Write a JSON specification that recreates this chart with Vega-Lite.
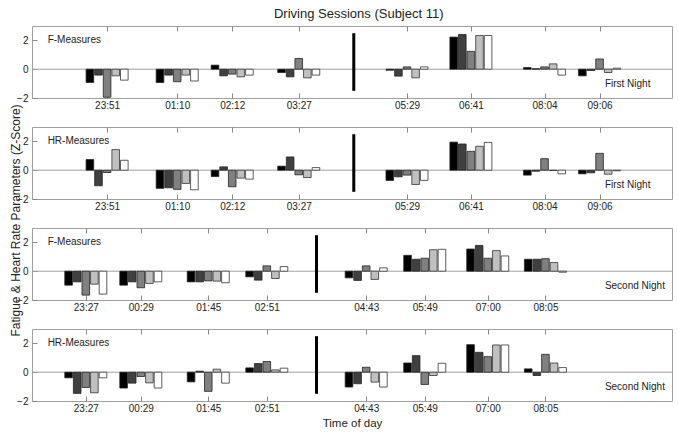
{
"$schema":"https://vega.github.io/schema/vega-lite/v6.json",
"background":"white",
"padding":{"left":8,"top":8,"right":0,"bottom":0},
"title":{"text":"Driving Sessions (Subject 11)","fontSize":13,"fontWeight":"normal","font":"Liberation Sans","color":"#222","offset":4,"anchor":"middle","dx":18},
"datasets":{"d":[
{"p":"F1","t":"2000-01-01T23:51","s":1,"v":-0.92},{"p":"F1","t":"2000-01-01T23:51","s":2,"v":-0.41},{"p":"F1","t":"2000-01-01T23:51","s":3,"v":-1.95},{"p":"F1","t":"2000-01-01T23:51","s":4,"v":-0.46},{"p":"F1","t":"2000-01-01T23:51","s":5,"v":-0.76},
{"p":"F1","t":"2000-01-02T01:10","s":1,"v":-0.92},{"p":"F1","t":"2000-01-02T01:10","s":2,"v":-0.41},{"p":"F1","t":"2000-01-02T01:10","s":3,"v":-0.87},{"p":"F1","t":"2000-01-02T01:10","s":4,"v":-0.41},{"p":"F1","t":"2000-01-02T01:10","s":5,"v":-0.82},
{"p":"F1","t":"2000-01-02T02:12","s":1,"v":0.28},{"p":"F1","t":"2000-01-02T02:12","s":2,"v":-0.46},{"p":"F1","t":"2000-01-02T02:12","s":3,"v":-0.34},{"p":"F1","t":"2000-01-02T02:12","s":4,"v":-0.53},{"p":"F1","t":"2000-01-02T02:12","s":5,"v":-0.41},
{"p":"F1","t":"2000-01-02T03:27","s":1,"v":-0.23},{"p":"F1","t":"2000-01-02T03:27","s":2,"v":-0.53},{"p":"F1","t":"2000-01-02T03:27","s":3,"v":0.74},{"p":"F1","t":"2000-01-02T03:27","s":4,"v":-0.6},{"p":"F1","t":"2000-01-02T03:27","s":5,"v":-0.41},
{"p":"F1","t":"2000-01-02T05:29","s":1,"v":-0.07},{"p":"F1","t":"2000-01-02T05:29","s":2,"v":-0.48},{"p":"F1","t":"2000-01-02T05:29","s":3,"v":0.16},{"p":"F1","t":"2000-01-02T05:29","s":4,"v":-0.6},{"p":"F1","t":"2000-01-02T05:29","s":5,"v":0.16},
{"p":"F1","t":"2000-01-02T06:41","s":1,"v":2.23},{"p":"F1","t":"2000-01-02T06:41","s":2,"v":2.41},{"p":"F1","t":"2000-01-02T06:41","s":3,"v":1.24},{"p":"F1","t":"2000-01-02T06:41","s":4,"v":2.34},{"p":"F1","t":"2000-01-02T06:41","s":5,"v":2.34},
{"p":"F1","t":"2000-01-02T08:04","s":1,"v":0.11},{"p":"F1","t":"2000-01-02T08:04","s":2,"v":0.03},{"p":"F1","t":"2000-01-02T08:04","s":3,"v":0.16},{"p":"F1","t":"2000-01-02T08:04","s":4,"v":0.37},{"p":"F1","t":"2000-01-02T08:04","s":5,"v":-0.41},
{"p":"F1","t":"2000-01-02T09:06","s":1,"v":-0.46},{"p":"F1","t":"2000-01-02T09:06","s":2,"v":-0.09},{"p":"F1","t":"2000-01-02T09:06","s":3,"v":0.71},{"p":"F1","t":"2000-01-02T09:06","s":4,"v":-0.23},{"p":"F1","t":"2000-01-02T09:06","s":5,"v":0.07},
{"p":"H1","t":"2000-01-01T23:51","s":1,"v":0.74},{"p":"H1","t":"2000-01-01T23:51","s":2,"v":-1.08},{"p":"H1","t":"2000-01-01T23:51","s":3,"v":-0.16},{"p":"H1","t":"2000-01-01T23:51","s":4,"v":1.43},{"p":"H1","t":"2000-01-01T23:51","s":5,"v":0.69},
{"p":"H1","t":"2000-01-02T01:10","s":1,"v":-1.26},{"p":"H1","t":"2000-01-02T01:10","s":2,"v":-1.22},{"p":"H1","t":"2000-01-02T01:10","s":3,"v":-1.33},{"p":"H1","t":"2000-01-02T01:10","s":4,"v":-0.92},{"p":"H1","t":"2000-01-02T01:10","s":5,"v":-1.36},
{"p":"H1","t":"2000-01-02T02:12","s":1,"v":-0.44},{"p":"H1","t":"2000-01-02T02:12","s":2,"v":0.23},{"p":"H1","t":"2000-01-02T02:12","s":3,"v":-1.15},{"p":"H1","t":"2000-01-02T02:12","s":4,"v":-0.55},{"p":"H1","t":"2000-01-02T02:12","s":5,"v":-0.62},
{"p":"H1","t":"2000-01-02T03:27","s":1,"v":0.28},{"p":"H1","t":"2000-01-02T03:27","s":2,"v":0.92},{"p":"H1","t":"2000-01-02T03:27","s":3,"v":-0.32},{"p":"H1","t":"2000-01-02T03:27","s":4,"v":-0.51},{"p":"H1","t":"2000-01-02T03:27","s":5,"v":0.18},
{"p":"H1","t":"2000-01-02T05:29","s":1,"v":-0.71},{"p":"H1","t":"2000-01-02T05:29","s":2,"v":-0.46},{"p":"H1","t":"2000-01-02T05:29","s":3,"v":-0.34},{"p":"H1","t":"2000-01-02T05:29","s":4,"v":-0.99},{"p":"H1","t":"2000-01-02T05:29","s":5,"v":-0.71},
{"p":"H1","t":"2000-01-02T06:41","s":1,"v":1.95},{"p":"H1","t":"2000-01-02T06:41","s":2,"v":1.82},{"p":"H1","t":"2000-01-02T06:41","s":3,"v":1.31},{"p":"H1","t":"2000-01-02T06:41","s":4,"v":1.66},{"p":"H1","t":"2000-01-02T06:41","s":5,"v":1.93},
{"p":"H1","t":"2000-01-02T08:04","s":1,"v":-0.34},{"p":"H1","t":"2000-01-02T08:04","s":2,"v":-0.07},{"p":"H1","t":"2000-01-02T08:04","s":3,"v":0.8},{"p":"H1","t":"2000-01-02T08:04","s":4,"v":-0.02},{"p":"H1","t":"2000-01-02T08:04","s":5,"v":-0.25},
{"p":"H1","t":"2000-01-02T09:06","s":1,"v":-0.25},{"p":"H1","t":"2000-01-02T09:06","s":2,"v":-0.18},{"p":"H1","t":"2000-01-02T09:06","s":3,"v":1.17},{"p":"H1","t":"2000-01-02T09:06","s":4,"v":-0.28},{"p":"H1","t":"2000-01-02T09:06","s":5,"v":-0.04},
{"p":"F2","t":"2000-01-01T23:27","s":1,"v":-0.97},{"p":"F2","t":"2000-01-01T23:27","s":2,"v":-0.74},{"p":"F2","t":"2000-01-01T23:27","s":3,"v":-1.66},{"p":"F2","t":"2000-01-01T23:27","s":4,"v":-0.9},{"p":"F2","t":"2000-01-01T23:27","s":5,"v":-1.59},
{"p":"F2","t":"2000-01-02T00:29","s":1,"v":-0.97},{"p":"F2","t":"2000-01-02T00:29","s":2,"v":-0.74},{"p":"F2","t":"2000-01-02T00:29","s":3,"v":-1.15},{"p":"F2","t":"2000-01-02T00:29","s":4,"v":-0.85},{"p":"F2","t":"2000-01-02T00:29","s":5,"v":-0.74},
{"p":"F2","t":"2000-01-02T01:45","s":1,"v":-0.74},{"p":"F2","t":"2000-01-02T01:45","s":2,"v":-0.74},{"p":"F2","t":"2000-01-02T01:45","s":3,"v":-0.67},{"p":"F2","t":"2000-01-02T01:45","s":4,"v":-0.69},{"p":"F2","t":"2000-01-02T01:45","s":5,"v":-0.8},
{"p":"F2","t":"2000-01-02T02:51","s":1,"v":-0.39},{"p":"F2","t":"2000-01-02T02:51","s":2,"v":-0.62},{"p":"F2","t":"2000-01-02T02:51","s":3,"v":0.37},{"p":"F2","t":"2000-01-02T02:51","s":4,"v":-0.51},{"p":"F2","t":"2000-01-02T02:51","s":5,"v":0.32},
{"p":"F2","t":"2000-01-02T04:43","s":1,"v":-0.46},{"p":"F2","t":"2000-01-02T04:43","s":2,"v":-0.64},{"p":"F2","t":"2000-01-02T04:43","s":3,"v":0.37},{"p":"F2","t":"2000-01-02T04:43","s":4,"v":-0.57},{"p":"F2","t":"2000-01-02T04:43","s":5,"v":0.23},
{"p":"F2","t":"2000-01-02T05:49","s":1,"v":1.1},{"p":"F2","t":"2000-01-02T05:49","s":2,"v":0.83},{"p":"F2","t":"2000-01-02T05:49","s":3,"v":0.9},{"p":"F2","t":"2000-01-02T05:49","s":4,"v":1.49},{"p":"F2","t":"2000-01-02T05:49","s":5,"v":1.52},
{"p":"F2","t":"2000-01-02T07:00","s":1,"v":1.54},{"p":"F2","t":"2000-01-02T07:00","s":2,"v":1.79},{"p":"F2","t":"2000-01-02T07:00","s":3,"v":0.9},{"p":"F2","t":"2000-01-02T07:00","s":4,"v":1.43},{"p":"F2","t":"2000-01-02T07:00","s":5,"v":1.06},
{"p":"F2","t":"2000-01-02T08:05","s":1,"v":0.83},{"p":"F2","t":"2000-01-02T08:05","s":2,"v":0.83},{"p":"F2","t":"2000-01-02T08:05","s":3,"v":0.87},{"p":"F2","t":"2000-01-02T08:05","s":4,"v":0.6},{"p":"F2","t":"2000-01-02T08:05","s":5,"v":-0.07},
{"p":"H2","t":"2000-01-01T23:27","s":1,"v":-0.39},{"p":"H2","t":"2000-01-01T23:27","s":2,"v":-1.47},{"p":"H2","t":"2000-01-01T23:27","s":3,"v":-1.06},{"p":"H2","t":"2000-01-01T23:27","s":4,"v":-1.43},{"p":"H2","t":"2000-01-01T23:27","s":5,"v":-0.39},
{"p":"H2","t":"2000-01-02T00:29","s":1,"v":-1.1},{"p":"H2","t":"2000-01-02T00:29","s":2,"v":-0.76},{"p":"H2","t":"2000-01-02T00:29","s":3,"v":-0.3},{"p":"H2","t":"2000-01-02T00:29","s":4,"v":-0.74},{"p":"H2","t":"2000-01-02T00:29","s":5,"v":-1.1},
{"p":"H2","t":"2000-01-02T01:45","s":1,"v":-0.67},{"p":"H2","t":"2000-01-02T01:45","s":2,"v":0.07},{"p":"H2","t":"2000-01-02T01:45","s":3,"v":-1.33},{"p":"H2","t":"2000-01-02T01:45","s":4,"v":0.21},{"p":"H2","t":"2000-01-02T01:45","s":5,"v":-0.76},
{"p":"H2","t":"2000-01-02T02:51","s":1,"v":0.3},{"p":"H2","t":"2000-01-02T02:51","s":2,"v":0.6},{"p":"H2","t":"2000-01-02T02:51","s":3,"v":0.74},{"p":"H2","t":"2000-01-02T02:51","s":4,"v":0.16},{"p":"H2","t":"2000-01-02T02:51","s":5,"v":0.28},
{"p":"H2","t":"2000-01-02T04:43","s":1,"v":-1.03},{"p":"H2","t":"2000-01-02T04:43","s":2,"v":-0.8},{"p":"H2","t":"2000-01-02T04:43","s":3,"v":0.34},{"p":"H2","t":"2000-01-02T04:43","s":4,"v":-0.69},{"p":"H2","t":"2000-01-02T04:43","s":5,"v":-1.03},
{"p":"H2","t":"2000-01-02T05:49","s":1,"v":0.64},{"p":"H2","t":"2000-01-02T05:49","s":2,"v":1.15},{"p":"H2","t":"2000-01-02T05:49","s":3,"v":-0.85},{"p":"H2","t":"2000-01-02T05:49","s":4,"v":-0.23},{"p":"H2","t":"2000-01-02T05:49","s":5,"v":0.62},
{"p":"H2","t":"2000-01-02T07:00","s":1,"v":1.91},{"p":"H2","t":"2000-01-02T07:00","s":2,"v":1.38},{"p":"H2","t":"2000-01-02T07:00","s":3,"v":1.08},{"p":"H2","t":"2000-01-02T07:00","s":4,"v":1.89},{"p":"H2","t":"2000-01-02T07:00","s":5,"v":1.89},
{"p":"H2","t":"2000-01-02T08:05","s":1,"v":0.23},{"p":"H2","t":"2000-01-02T08:05","s":2,"v":-0.23},{"p":"H2","t":"2000-01-02T08:05","s":3,"v":1.24},{"p":"H2","t":"2000-01-02T08:05","s":4,"v":0.64},{"p":"H2","t":"2000-01-02T08:05","s":5,"v":0.32}
]},
"spacing":29,
"bounds":"flush",
"vconcat":[
{"width":640,"height":72,"data":{"name":"d"},"resolve":{"axis":{"x":"independent","y":"independent"}},"layer":[
 {"data":{"values":[{}]},"mark":{"type":"rule","color":"#a0a0a0","strokeWidth":1},"encoding":{"y":{"datum":0,"type":"quantitative","axis":null}}},
 {"transform":[{"filter":"datum.p=='F1' && datum.s==1"}],"mark":{"type":"bar","width":7.6,"xOffset":-17.2,"fill":"#000000","stroke":"#222","strokeWidth":0.8},"encoding":{"x":{"field":"t","type":"temporal","scale":{"domain":[{"year":2000,"month":1,"date":1,"hours":22,"minutes":32},{"year":2000,"month":1,"date":2,"hours":10,"minutes":22}],"nice":false},"axis":{"orient":"bottom","values":[{"year":2000,"month":1,"date":1,"hours":23,"minutes":51},{"year":2000,"month":1,"date":2,"hours":1,"minutes":10},{"year":2000,"month":1,"date":2,"hours":2,"minutes":12},{"year":2000,"month":1,"date":2,"hours":3,"minutes":27},{"year":2000,"month":1,"date":2,"hours":5,"minutes":29},{"year":2000,"month":1,"date":2,"hours":6,"minutes":41},{"year":2000,"month":1,"date":2,"hours":8,"minutes":4},{"year":2000,"month":1,"date":2,"hours":9,"minutes":6}],"format":"%H:%M","tickSize":-5,"labelPadding":7,"labelFlush":false,"labelOverlap":false,"title":null}},"y":{"field":"v","type":"quantitative","scale":{"domain":[-2,3],"nice":false},"axis":{"values":[-2,0,2],"tickSize":-5,"labelPadding":9,"minExtent":12,"maxExtent":12,"title":null}}}},
 {"transform":[{"filter":"datum.p=='F1' && datum.s==2"}],"mark":{"type":"bar","width":7.6,"xOffset":-8.6,"fill":"#404040","stroke":"#222","strokeWidth":0.8},"encoding":{"x":{"field":"t","type":"temporal","axis":null},"y":{"field":"v","type":"quantitative","axis":null}}},
 {"transform":[{"filter":"datum.p=='F1' && datum.s==3"}],"mark":{"type":"bar","width":7.6,"xOffset":0,"fill":"#808080","stroke":"#222","strokeWidth":0.8},"encoding":{"x":{"field":"t","type":"temporal","axis":null},"y":{"field":"v","type":"quantitative","axis":null}}},
 {"transform":[{"filter":"datum.p=='F1' && datum.s==4"}],"mark":{"type":"bar","width":7.6,"xOffset":8.6,"fill":"#c0c0c0","stroke":"#333","strokeWidth":0.8},"encoding":{"x":{"field":"t","type":"temporal","axis":null},"y":{"field":"v","type":"quantitative","axis":null}}},
 {"transform":[{"filter":"datum.p=='F1' && datum.s==5"}],"mark":{"type":"bar","width":7.6,"xOffset":17.2,"fill":"#ffffff","stroke":"#333","strokeWidth":0.8},"encoding":{"x":{"field":"t","type":"temporal","axis":null},"y":{"field":"v","type":"quantitative","axis":null}}},
 {"data":{"values":[{}]},"mark":{"type":"rule","color":"#000","strokeWidth":3},"encoding":{"x":{"datum":{"year":2000,"month":1,"date":2,"hours":4,"minutes":29},"type":"temporal","axis":{"orient":"top","values":[{"year":2000,"month":1,"date":1,"hours":23,"minutes":51},{"year":2000,"month":1,"date":2,"hours":1,"minutes":10},{"year":2000,"month":1,"date":2,"hours":2,"minutes":12},{"year":2000,"month":1,"date":2,"hours":3,"minutes":27},{"year":2000,"month":1,"date":2,"hours":5,"minutes":29},{"year":2000,"month":1,"date":2,"hours":6,"minutes":41},{"year":2000,"month":1,"date":2,"hours":8,"minutes":4},{"year":2000,"month":1,"date":2,"hours":9,"minutes":6}],"labels":false,"tickSize":-5,"title":null}},"y":{"datum":2.5,"type":"quantitative","axis":null},"y2":{"datum":-1.5}}},
 {"data":{"values":[{"label":"F-Measures"}]},"mark":{"type":"text","align":"left","baseline":"middle","fontSize":10,"color":"#222"},"encoding":{"x":{"datum":{"year":2000,"month":1,"date":1,"hours":22,"minutes":44},"type":"temporal","axis":null},"y":{"datum":2,"type":"quantitative","axis":null},"text":{"field":"label"}}},
 {"data":{"values":[{"label":"First Night"}]},"mark":{"type":"text","align":"left","baseline":"middle","fontSize":10,"color":"#222"},"encoding":{"x":{"datum":{"year":2000,"month":1,"date":2,"hours":9,"minutes":12},"type":"temporal","axis":null},"y":{"datum":-1.05,"type":"quantitative","axis":null},"text":{"field":"label"}}}
]},
{"width":640,"height":72,"data":{"name":"d"},"resolve":{"axis":{"x":"independent","y":"independent"}},"layer":[
 {"data":{"values":[{}]},"mark":{"type":"rule","color":"#a0a0a0","strokeWidth":1},"encoding":{"y":{"datum":0,"type":"quantitative","axis":null}}},
 {"transform":[{"filter":"datum.p=='H1' && datum.s==1"}],"mark":{"type":"bar","width":7.6,"xOffset":-17.2,"fill":"#000000","stroke":"#222","strokeWidth":0.8},"encoding":{"x":{"field":"t","type":"temporal","scale":{"domain":[{"year":2000,"month":1,"date":1,"hours":22,"minutes":32},{"year":2000,"month":1,"date":2,"hours":10,"minutes":22}],"nice":false},"axis":{"orient":"bottom","values":[{"year":2000,"month":1,"date":1,"hours":23,"minutes":51},{"year":2000,"month":1,"date":2,"hours":1,"minutes":10},{"year":2000,"month":1,"date":2,"hours":2,"minutes":12},{"year":2000,"month":1,"date":2,"hours":3,"minutes":27},{"year":2000,"month":1,"date":2,"hours":5,"minutes":29},{"year":2000,"month":1,"date":2,"hours":6,"minutes":41},{"year":2000,"month":1,"date":2,"hours":8,"minutes":4},{"year":2000,"month":1,"date":2,"hours":9,"minutes":6}],"format":"%H:%M","tickSize":-5,"labelPadding":7,"labelFlush":false,"labelOverlap":false,"title":null}},"y":{"field":"v","type":"quantitative","scale":{"domain":[-2,3],"nice":false},"axis":{"values":[-2,0,2],"tickSize":-5,"labelPadding":9,"minExtent":12,"maxExtent":12,"title":"Fatigue & Heart Rate Parameters (Z-Score)","titleFontSize":12,"titleY":93,"titlePadding":-2}}}},
 {"transform":[{"filter":"datum.p=='H1' && datum.s==2"}],"mark":{"type":"bar","width":7.6,"xOffset":-8.6,"fill":"#404040","stroke":"#222","strokeWidth":0.8},"encoding":{"x":{"field":"t","type":"temporal","axis":null},"y":{"field":"v","type":"quantitative","axis":null}}},
 {"transform":[{"filter":"datum.p=='H1' && datum.s==3"}],"mark":{"type":"bar","width":7.6,"xOffset":0,"fill":"#808080","stroke":"#222","strokeWidth":0.8},"encoding":{"x":{"field":"t","type":"temporal","axis":null},"y":{"field":"v","type":"quantitative","axis":null}}},
 {"transform":[{"filter":"datum.p=='H1' && datum.s==4"}],"mark":{"type":"bar","width":7.6,"xOffset":8.6,"fill":"#c0c0c0","stroke":"#333","strokeWidth":0.8},"encoding":{"x":{"field":"t","type":"temporal","axis":null},"y":{"field":"v","type":"quantitative","axis":null}}},
 {"transform":[{"filter":"datum.p=='H1' && datum.s==5"}],"mark":{"type":"bar","width":7.6,"xOffset":17.2,"fill":"#ffffff","stroke":"#333","strokeWidth":0.8},"encoding":{"x":{"field":"t","type":"temporal","axis":null},"y":{"field":"v","type":"quantitative","axis":null}}},
 {"data":{"values":[{}]},"mark":{"type":"rule","color":"#000","strokeWidth":3},"encoding":{"x":{"datum":{"year":2000,"month":1,"date":2,"hours":4,"minutes":29},"type":"temporal","axis":{"orient":"top","values":[{"year":2000,"month":1,"date":1,"hours":23,"minutes":51},{"year":2000,"month":1,"date":2,"hours":1,"minutes":10},{"year":2000,"month":1,"date":2,"hours":2,"minutes":12},{"year":2000,"month":1,"date":2,"hours":3,"minutes":27},{"year":2000,"month":1,"date":2,"hours":5,"minutes":29},{"year":2000,"month":1,"date":2,"hours":6,"minutes":41},{"year":2000,"month":1,"date":2,"hours":8,"minutes":4},{"year":2000,"month":1,"date":2,"hours":9,"minutes":6}],"labels":false,"tickSize":-5,"title":null}},"y":{"datum":2.5,"type":"quantitative","axis":null},"y2":{"datum":-1.5}}},
 {"data":{"values":[{"label":"HR-Measures"}]},"mark":{"type":"text","align":"left","baseline":"middle","fontSize":10,"color":"#222"},"encoding":{"x":{"datum":{"year":2000,"month":1,"date":1,"hours":22,"minutes":44},"type":"temporal","axis":null},"y":{"datum":2,"type":"quantitative","axis":null},"text":{"field":"label"}}},
 {"data":{"values":[{"label":"First Night"}]},"mark":{"type":"text","align":"left","baseline":"middle","fontSize":10,"color":"#222"},"encoding":{"x":{"datum":{"year":2000,"month":1,"date":2,"hours":9,"minutes":12},"type":"temporal","axis":null},"y":{"datum":-1.05,"type":"quantitative","axis":null},"text":{"field":"label"}}}
]},
{"width":640,"height":72,"data":{"name":"d"},"resolve":{"axis":{"x":"independent","y":"independent"}},"layer":[
 {"data":{"values":[{}]},"mark":{"type":"rule","color":"#a0a0a0","strokeWidth":1},"encoding":{"y":{"datum":0,"type":"quantitative","axis":null}}},
 {"transform":[{"filter":"datum.p=='F2' && datum.s==1"}],"mark":{"type":"bar","width":7.6,"xOffset":-17.2,"fill":"#000000","stroke":"#222","strokeWidth":0.8},"encoding":{"x":{"field":"t","type":"temporal","scale":{"domain":[{"year":2000,"month":1,"date":1,"hours":22,"minutes":32},{"year":2000,"month":1,"date":2,"hours":10,"minutes":22}],"nice":false},"axis":{"orient":"bottom","values":[{"year":2000,"month":1,"date":1,"hours":23,"minutes":27},{"year":2000,"month":1,"date":2,"hours":0,"minutes":29},{"year":2000,"month":1,"date":2,"hours":1,"minutes":45},{"year":2000,"month":1,"date":2,"hours":2,"minutes":51},{"year":2000,"month":1,"date":2,"hours":4,"minutes":43},{"year":2000,"month":1,"date":2,"hours":5,"minutes":49},{"year":2000,"month":1,"date":2,"hours":7,"minutes":0},{"year":2000,"month":1,"date":2,"hours":8,"minutes":5}],"format":"%H:%M","tickSize":-5,"labelPadding":7,"labelFlush":false,"labelOverlap":false,"title":null}},"y":{"field":"v","type":"quantitative","scale":{"domain":[-2,3],"nice":false},"axis":{"values":[-2,0,2],"tickSize":-5,"labelPadding":9,"minExtent":12,"maxExtent":12,"title":null}}}},
 {"transform":[{"filter":"datum.p=='F2' && datum.s==2"}],"mark":{"type":"bar","width":7.6,"xOffset":-8.6,"fill":"#404040","stroke":"#222","strokeWidth":0.8},"encoding":{"x":{"field":"t","type":"temporal","axis":null},"y":{"field":"v","type":"quantitative","axis":null}}},
 {"transform":[{"filter":"datum.p=='F2' && datum.s==3"}],"mark":{"type":"bar","width":7.6,"xOffset":0,"fill":"#808080","stroke":"#222","strokeWidth":0.8},"encoding":{"x":{"field":"t","type":"temporal","axis":null},"y":{"field":"v","type":"quantitative","axis":null}}},
 {"transform":[{"filter":"datum.p=='F2' && datum.s==4"}],"mark":{"type":"bar","width":7.6,"xOffset":8.6,"fill":"#c0c0c0","stroke":"#333","strokeWidth":0.8},"encoding":{"x":{"field":"t","type":"temporal","axis":null},"y":{"field":"v","type":"quantitative","axis":null}}},
 {"transform":[{"filter":"datum.p=='F2' && datum.s==5"}],"mark":{"type":"bar","width":7.6,"xOffset":17.2,"fill":"#ffffff","stroke":"#333","strokeWidth":0.8},"encoding":{"x":{"field":"t","type":"temporal","axis":null},"y":{"field":"v","type":"quantitative","axis":null}}},
 {"data":{"values":[{}]},"mark":{"type":"rule","color":"#000","strokeWidth":3},"encoding":{"x":{"datum":{"year":2000,"month":1,"date":2,"hours":3,"minutes":47},"type":"temporal","axis":{"orient":"top","values":[{"year":2000,"month":1,"date":1,"hours":23,"minutes":27},{"year":2000,"month":1,"date":2,"hours":0,"minutes":29},{"year":2000,"month":1,"date":2,"hours":1,"minutes":45},{"year":2000,"month":1,"date":2,"hours":2,"minutes":51},{"year":2000,"month":1,"date":2,"hours":4,"minutes":43},{"year":2000,"month":1,"date":2,"hours":5,"minutes":49},{"year":2000,"month":1,"date":2,"hours":7,"minutes":0},{"year":2000,"month":1,"date":2,"hours":8,"minutes":5}],"labels":false,"tickSize":-5,"title":null}},"y":{"datum":2.5,"type":"quantitative","axis":null},"y2":{"datum":-1.5}}},
 {"data":{"values":[{"label":"F-Measures"}]},"mark":{"type":"text","align":"left","baseline":"middle","fontSize":10,"color":"#222"},"encoding":{"x":{"datum":{"year":2000,"month":1,"date":1,"hours":22,"minutes":44},"type":"temporal","axis":null},"y":{"datum":2,"type":"quantitative","axis":null},"text":{"field":"label"}}},
 {"data":{"values":[{"label":"Second Night"}]},"mark":{"type":"text","align":"left","baseline":"middle","fontSize":10,"color":"#222"},"encoding":{"x":{"datum":{"year":2000,"month":1,"date":2,"hours":9,"minutes":12},"type":"temporal","axis":null},"y":{"datum":-1.05,"type":"quantitative","axis":null},"text":{"field":"label"}}}
]},
{"width":640,"height":72,"data":{"name":"d"},"resolve":{"axis":{"x":"independent","y":"independent"}},"layer":[
 {"data":{"values":[{}]},"mark":{"type":"rule","color":"#a0a0a0","strokeWidth":1},"encoding":{"y":{"datum":0,"type":"quantitative","axis":null}}},
 {"transform":[{"filter":"datum.p=='H2' && datum.s==1"}],"mark":{"type":"bar","width":7.6,"xOffset":-17.2,"fill":"#000000","stroke":"#222","strokeWidth":0.8},"encoding":{"x":{"field":"t","type":"temporal","scale":{"domain":[{"year":2000,"month":1,"date":1,"hours":22,"minutes":32},{"year":2000,"month":1,"date":2,"hours":10,"minutes":22}],"nice":false},"axis":{"orient":"bottom","values":[{"year":2000,"month":1,"date":1,"hours":23,"minutes":27},{"year":2000,"month":1,"date":2,"hours":0,"minutes":29},{"year":2000,"month":1,"date":2,"hours":1,"minutes":45},{"year":2000,"month":1,"date":2,"hours":2,"minutes":51},{"year":2000,"month":1,"date":2,"hours":4,"minutes":43},{"year":2000,"month":1,"date":2,"hours":5,"minutes":49},{"year":2000,"month":1,"date":2,"hours":7,"minutes":0},{"year":2000,"month":1,"date":2,"hours":8,"minutes":5}],"format":"%H:%M","tickSize":-5,"labelPadding":7,"labelFlush":false,"labelOverlap":false,"title":"Time of day","titleFontSize":11.5,"titlePadding":4}},"y":{"field":"v","type":"quantitative","scale":{"domain":[-2,3],"nice":false},"axis":{"values":[-2,0,2],"tickSize":-5,"labelPadding":9,"minExtent":12,"maxExtent":12,"title":null}}}},
 {"transform":[{"filter":"datum.p=='H2' && datum.s==2"}],"mark":{"type":"bar","width":7.6,"xOffset":-8.6,"fill":"#404040","stroke":"#222","strokeWidth":0.8},"encoding":{"x":{"field":"t","type":"temporal","axis":null},"y":{"field":"v","type":"quantitative","axis":null}}},
 {"transform":[{"filter":"datum.p=='H2' && datum.s==3"}],"mark":{"type":"bar","width":7.6,"xOffset":0,"fill":"#808080","stroke":"#222","strokeWidth":0.8},"encoding":{"x":{"field":"t","type":"temporal","axis":null},"y":{"field":"v","type":"quantitative","axis":null}}},
 {"transform":[{"filter":"datum.p=='H2' && datum.s==4"}],"mark":{"type":"bar","width":7.6,"xOffset":8.6,"fill":"#c0c0c0","stroke":"#333","strokeWidth":0.8},"encoding":{"x":{"field":"t","type":"temporal","axis":null},"y":{"field":"v","type":"quantitative","axis":null}}},
 {"transform":[{"filter":"datum.p=='H2' && datum.s==5"}],"mark":{"type":"bar","width":7.6,"xOffset":17.2,"fill":"#ffffff","stroke":"#333","strokeWidth":0.8},"encoding":{"x":{"field":"t","type":"temporal","axis":null},"y":{"field":"v","type":"quantitative","axis":null}}},
 {"data":{"values":[{}]},"mark":{"type":"rule","color":"#000","strokeWidth":3},"encoding":{"x":{"datum":{"year":2000,"month":1,"date":2,"hours":3,"minutes":47},"type":"temporal","axis":{"orient":"top","values":[{"year":2000,"month":1,"date":1,"hours":23,"minutes":27},{"year":2000,"month":1,"date":2,"hours":0,"minutes":29},{"year":2000,"month":1,"date":2,"hours":1,"minutes":45},{"year":2000,"month":1,"date":2,"hours":2,"minutes":51},{"year":2000,"month":1,"date":2,"hours":4,"minutes":43},{"year":2000,"month":1,"date":2,"hours":5,"minutes":49},{"year":2000,"month":1,"date":2,"hours":7,"minutes":0},{"year":2000,"month":1,"date":2,"hours":8,"minutes":5}],"labels":false,"tickSize":-5,"title":null}},"y":{"datum":2.5,"type":"quantitative","axis":null},"y2":{"datum":-1.5}}},
 {"data":{"values":[{"label":"HR-Measures"}]},"mark":{"type":"text","align":"left","baseline":"middle","fontSize":10,"color":"#222"},"encoding":{"x":{"datum":{"year":2000,"month":1,"date":1,"hours":22,"minutes":44},"type":"temporal","axis":null},"y":{"datum":2,"type":"quantitative","axis":null},"text":{"field":"label"}}},
 {"data":{"values":[{"label":"Second Night"}]},"mark":{"type":"text","align":"left","baseline":"middle","fontSize":10,"color":"#222"},"encoding":{"x":{"datum":{"year":2000,"month":1,"date":2,"hours":9,"minutes":12},"type":"temporal","axis":null},"y":{"datum":-1.05,"type":"quantitative","axis":null},"text":{"field":"label"}}}
]}
],
"config":{"view":{"stroke":"#a0a0a0","strokeWidth":1},"axis":{"domain":false,"grid":false,"labelFont":"Liberation Sans","labelFontSize":10,"labelColor":"#222","tickColor":"#888","titleFont":"Liberation Sans","titleFontWeight":"normal","titleColor":"#222","titleFontSize":11},"text":{"font":"Liberation Sans"}}
}
